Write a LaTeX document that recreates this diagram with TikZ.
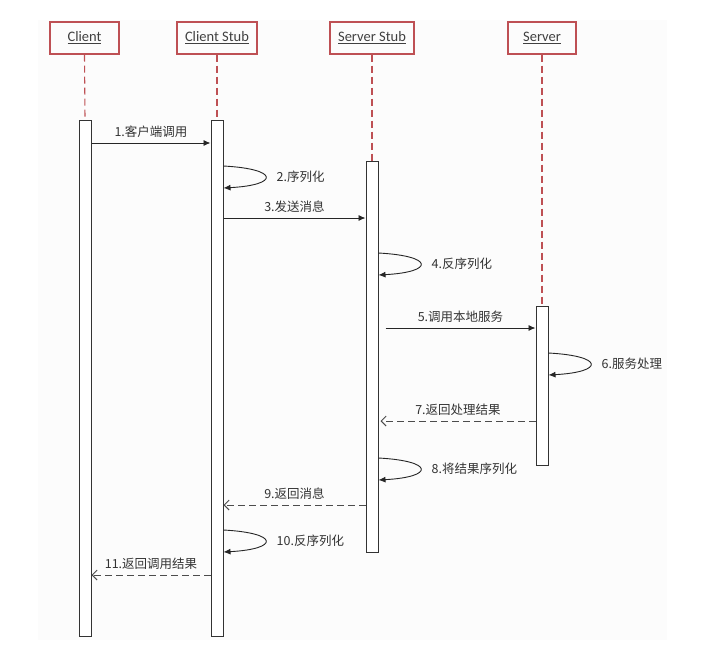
\documentclass[tikz,border=0pt]{standalone}
\usepackage{fontspec}
\setmainfont{Carlito}
\newfontfamily\cjk{Noto Sans CJK SC}
\usepackage{xcolor}
\usetikzlibrary{positioning,arrows.meta,calc}
\definecolor{hdred}{RGB}{190,80,84}

\begin{document}
\begin{tikzpicture}[x=1pt, y=-1pt,
  font=\fontsize{14.5}{16}\selectfont,
  head/.style={draw=hdred, line width=1.1pt, minimum height=32pt, inner sep=0pt, text=black!75},
  bar/.style={draw=black!80, fill=white, line width=1pt, minimum width=12pt, inner sep=0pt},
  life/.style={draw=hdred, line width=1.1pt, dash pattern=on 7pt off 4pt},
  msg/.style={-{Latex[length=7pt,width=6pt]}, line width=0.9pt, black!85},
  ret/.style={-{Straight Barb[length=5pt,width=10pt]}, line width=0.9pt, black!70, dash pattern=on 7pt off 4pt},
  lab/.style={font=\cjk\fontsize{12.5}{14}\selectfont, text=black!80, inner sep=2pt}
]
\useasboundingbox (0,0) rectangle (710,651);
\fill[black!1] (38,20) rectangle (667,640);
% ----- participants -----
\node[head, minimum width=69pt] (client) at (84.5,38) {\underline{Client}};
\node[head, minimum width=80pt] (cstub)  at (217,38)  {\underline{Client Stub}};
\node[head, minimum width=84pt] (sstub)  at (372,38)  {\underline{Server Stub}};
\node[head, minimum width=68pt] (server) at (542,38)  {\underline{Server}};
% ----- activation bars -----
\node[bar, minimum height=516pt] (cbar)  at (85,378)    {};
\node[bar, minimum height=516pt] (csbar) at (217,378)   {};
\node[bar, minimum height=391pt] (ssbar) at (372,356.5) {};
\node[bar, minimum height=159pt] (sbar)  at (542,385.5) {};
\foreach \h/\b in {client/cbar, cstub/csbar, sstub/ssbar, server/sbar}{\draw[life] (\h.south) -- (\b.north);}
% ----- calls -----
\draw[msg] (cbar.east |- 0,143) -- node[lab, above=3pt]{1.客户端调用} (csbar.west |- 0,143);
\draw[msg] (csbar.east |- 0,218) -- node[lab, above=3pt]{3.发送消息} (ssbar.west |- 0,218);
\draw[msg] ([xshift=7pt]ssbar.east |- 0,328) -- node[lab, above=3pt]{5.调用本地服务} (sbar.west |- 0,328);
% ----- self loops -----
\foreach \b/\y/\t in {csbar/166/2.序列化, ssbar/253/4.反序列化, sbar/353/6.服务处理, ssbar/458/8.将结果序列化, csbar/530/10.反序列化}{
  \draw[msg] (\b.east |- 0,\y) .. controls +(56,3) and +(56,-3) .. (\b.east |- 0,\y+22);
  \node[lab, anchor=west] at ([xshift=51pt]\b.east |- 0,\y+11) {\t};
}
% ----- returns -----
\draw[ret] (sbar.west |- 0,421) -- node[lab, above=3pt]{7.返回处理结果} ([xshift=2pt]ssbar.east |- 0,421);
\draw[ret] (ssbar.west |- 0,505) -- node[lab, above=3pt]{9.返回消息} (csbar.east |- 0,505);
\draw[ret] (csbar.west |- 0,575) -- node[lab, above=3pt]{11.返回调用结果} (cbar.east |- 0,575);
\end{tikzpicture}
\end{document}
